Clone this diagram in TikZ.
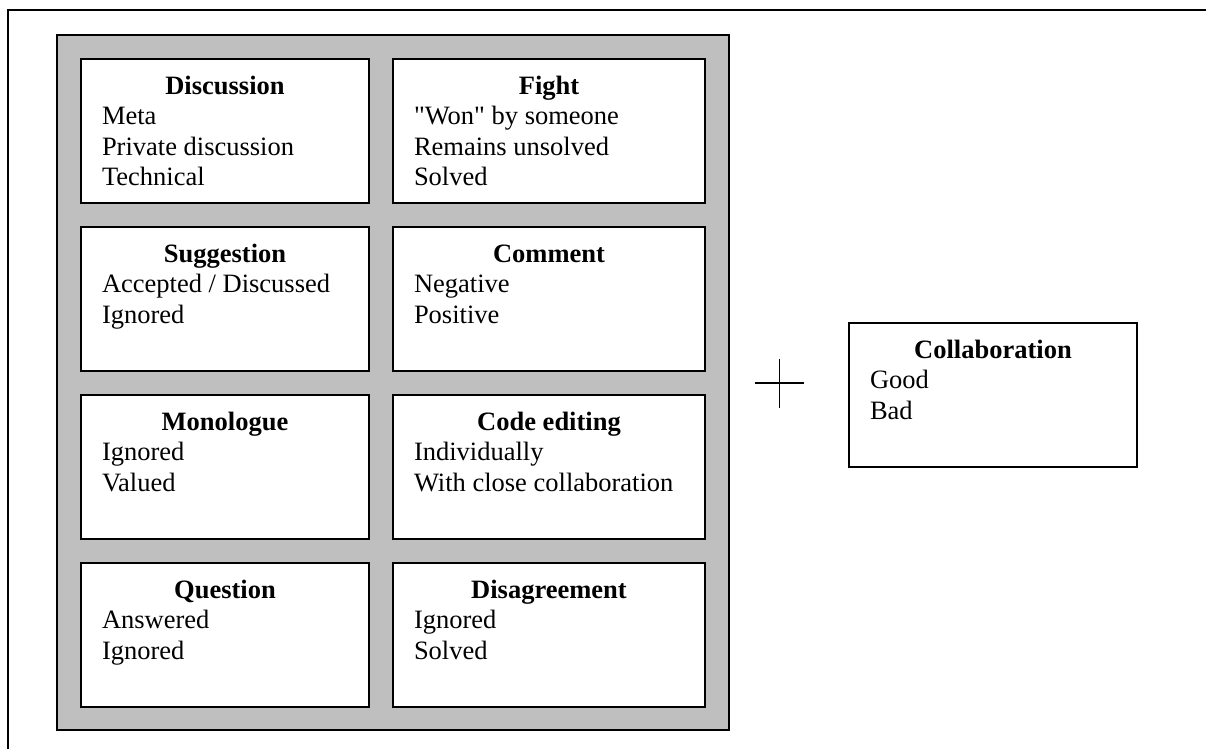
\documentclass[tikz,border=0pt]{standalone}
\usepackage{fontspec}
\setmainfont{Liberation Serif}[Ligatures=TeXOff]

% Contents of one category box: bold centred title, then left-aligned items
\newcommand\catcontent[4]{%
  \parbox[c][#2][t]{#1}{%
    \fontsize{26.5pt}{30.5pt}\selectfont
    \centering\rule{0pt}{35pt}\textbf{#3}\par
    \raggedright\leftskip=21pt #4\par}}

\begin{document}
\begin{tikzpicture}[x=1pt,y=-1pt,
    frame/.style={line width=2pt},
    panelbox/.style={draw=black,line width=2pt,fill=black!25!white,
      minimum width=672pt,minimum height=695pt,inner sep=0pt},
    catbox/.style={draw=black,line width=2pt,fill=white,inner sep=0pt},
    plusline/.style={line width=1.6pt}]
  \useasboundingbox (0,0) rectangle (1206,749);

  % page frame, running off the edges
  \draw[frame] (8,749) -- (8,10) -- (1206,10);

  % grey panel holding the categories
  \node[panelbox] (panel) at (393,382.5) {};

  % left column
  \node[catbox] (discussion) at (225,131)
    {\catcontent{288pt}{144pt}{Discussion}{Meta\par Private discussion\par Technical}};
  \node[catbox] (suggestion) at (225,299)
    {\catcontent{288pt}{144pt}{Suggestion}{Accepted / Discussed\par Ignored}};
  \node[catbox] (monologue) at (225,467)
    {\catcontent{288pt}{144pt}{Monologue}{Ignored\par Valued}};
  \node[catbox] (question) at (225,635)
    {\catcontent{288pt}{144pt}{Question}{Answered\par Ignored}};

  % right column
  \node[catbox] (fight) at (549,131)
    {\catcontent{312pt}{144pt}{Fight}{"Won" by someone\par Remains unsolved\par Solved}};
  \node[catbox] (comment) at (549,299)
    {\catcontent{312pt}{144pt}{Comment}{Negative\par Positive}};
  \node[catbox] (codeediting) at (549,467)
    {\catcontent{312pt}{144pt}{Code editing}{Individually\par With close collaboration}};
  \node[catbox] (disagreement) at (549,635)
    {\catcontent{312pt}{144pt}{Disagreement}{Ignored\par Solved}};

  % plus sign
  \coordinate (plus) at (779.5,383);
  \draw[plusline] (plus) ++(-24.5,0) -- ++(49,0);
  \draw[plusline] (plus) ++(0,-24.5) -- ++(0,49);

  % collaboration outcome
  \node[catbox] (collaboration) at (993,395)
    {\catcontent{288pt}{144pt}{Collaboration}{Good\par Bad}};
\end{tikzpicture}
\end{document}
